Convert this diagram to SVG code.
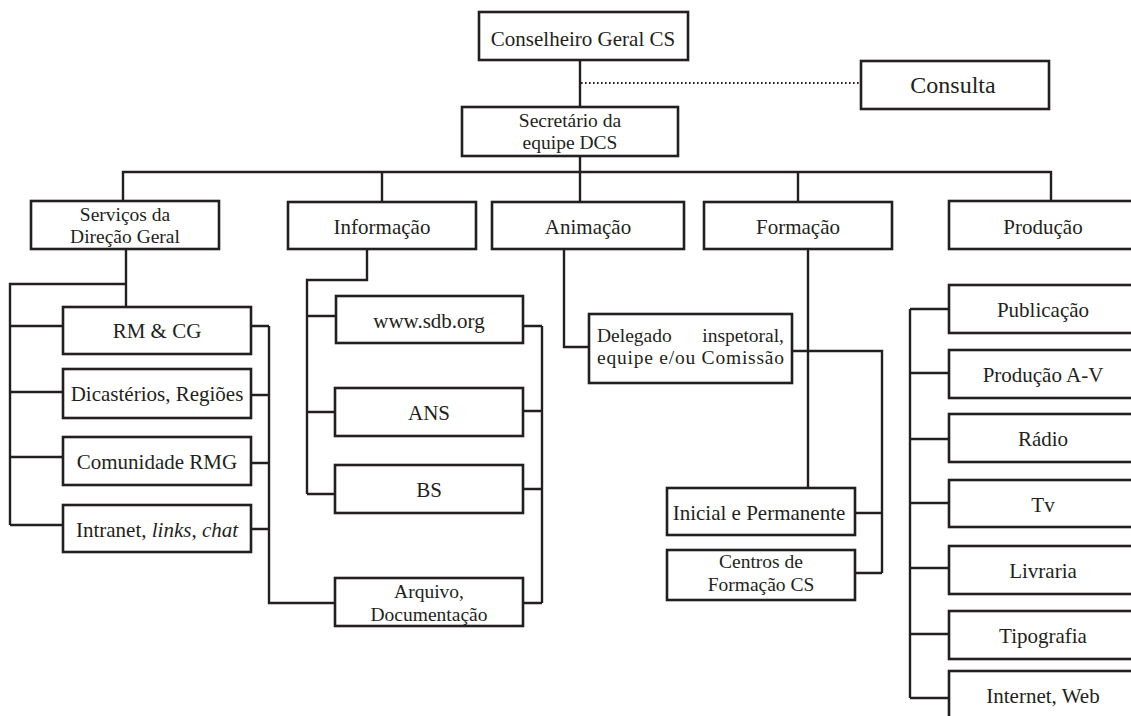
<svg xmlns="http://www.w3.org/2000/svg" width="1131" height="716" viewBox="0 0 1131 716">
<style>
rect{fill:#fff;stroke:#231f20;stroke-width:2.6}
text{font-family:"Liberation Serif","Times New Roman",serif;font-size:21px;fill:#231f20;text-anchor:middle}
.t2{font-size:19.5px}
.c{fill:none;stroke:#231f20;stroke-width:2.4}
.d{fill:none;stroke:#231f20;stroke-width:2;stroke-dasharray:1.6 2.4}
</style>
<g id="connectors">
<path class="c" d="M580 60V107M580 156V202M123 201V172H1051V201M382 172V202M798 172V202"/>
<path class="d" d="M581 83H861"/>
<path class="c" d="M126 249V307M126 284H10V525M10 326H63M10 392H63M10 457H63M10 525H63"/>
<path class="c" d="M251 326H269M251 395H269M251 463H269M251 529H269M269 326V603H335"/>
<path class="c" d="M367 249V280H307V494M307 316H336M307 412H335M307 494H335"/>
<path class="c" d="M523 326H542M523 411H542M523 489H542M523 603H542M542 326V603"/>
<path class="c" d="M564 249V347H589"/>
<path class="c" d="M808 249V488M792 351H882V573M855 513H882M855 573H882"/>
<path class="c" d="M910 309V698M910 309H949M910 373H949M910 439H949M910 503H949M910 568H949M910 634H949M910 698H949"/>
</g>
<g id="conselheiro"><rect x="479" y="12" width="209" height="48"/><text x="583" y="46">Conselheiro Geral CS</text></g>
<g id="consulta"><rect x="861" y="61" width="188" height="48"/><text x="953" y="93" style="font-size:24px">Consulta</text></g>
<g id="secretario"><rect x="462" y="107" width="216" height="49"/><text class="t2" x="570" y="127">Secretário da</text><text class="t2" x="570" y="149">equipe DCS</text></g>
<g id="servicos"><rect x="31" y="201" width="188" height="48"/><text class="t2" x="125" y="221">Serviços da</text><text class="t2" x="125" y="243">Direção Geral</text></g>
<g id="informacao"><rect x="288" y="202" width="188" height="47"/><text x="382" y="234">Informação</text></g>
<g id="animacao"><rect x="492" y="202" width="192" height="47"/><text x="588" y="234">Animação</text></g>
<g id="formacao"><rect x="704" y="202" width="188" height="47"/><text x="798" y="234">Formação</text></g>
<g id="producao"><rect x="949" y="201" width="188" height="48"/><text x="1043" y="234">Produção</text></g>
<g id="rmcg"><rect x="63" y="307" width="188" height="47"/><text x="157" y="338">RM &amp; CG</text></g>
<g id="dicasterios"><rect x="63" y="369" width="188" height="49"/><text x="157" y="401">Dicastérios, Regiões</text></g>
<g id="comunidade"><rect x="63" y="437" width="188" height="48"/><text x="157" y="469">Comunidade RMG</text></g>
<g id="intranet"><rect x="63" y="505" width="188" height="47"/><text x="157" y="537">Intranet, <tspan font-style="italic">links</tspan>, <tspan font-style="italic">chat</tspan></text></g>
<g id="sdb"><rect x="336" y="296" width="187" height="47"/><text x="429" y="328">www.sdb.org</text></g>
<g id="ans"><rect x="335" y="388" width="188" height="48"/><text x="429" y="420">ANS</text></g>
<g id="bs"><rect x="335" y="465" width="188" height="48"/><text x="429" y="497">BS</text></g>
<g id="arquivo"><rect x="335" y="578" width="188" height="48"/><text class="t2" x="429" y="598">Arquivo,</text><text class="t2" x="429" y="621">Documentação</text></g>
<g id="delegado"><rect x="589" y="314" width="203" height="69"/><text class="t2" x="597" y="342" style="text-anchor:start">Delegado</text><text class="t2" x="784" y="342" style="text-anchor:end">inspetoral,</text><text class="t2" x="597" y="364" style="text-anchor:start" textLength="187" lengthAdjust="spacing">equipe e/ou Comissão</text></g>
<g id="inicial"><rect x="667" y="488" width="188" height="47"/><text x="759" y="520">Inicial e Permanente</text></g>
<g id="centros"><rect x="667" y="550" width="188" height="50"/><text class="t2" x="761" y="568">Centros de</text><text class="t2" x="761" y="591">Formação CS</text></g>
<g id="publicacao"><rect x="949" y="285" width="188" height="48"/><text x="1043" y="317">Publicação</text></g>
<g id="producaoav"><rect x="949" y="350" width="188" height="48"/><text x="1043" y="382">Produção A-V</text></g>
<g id="radio"><rect x="949" y="414" width="188" height="48"/><text x="1043" y="446">Rádio</text></g>
<g id="tv"><rect x="949" y="480" width="188" height="47"/><text x="1043" y="512">Tv</text></g>
<g id="livraria"><rect x="949" y="546" width="188" height="48"/><text x="1043" y="578">Livraria</text></g>
<g id="tipografia"><rect x="949" y="611" width="188" height="48"/><text x="1043" y="643">Tipografia</text></g>
<g id="internet"><rect x="949" y="671" width="188" height="60"/><text x="1043" y="703">Internet, Web</text></g>
</svg>
